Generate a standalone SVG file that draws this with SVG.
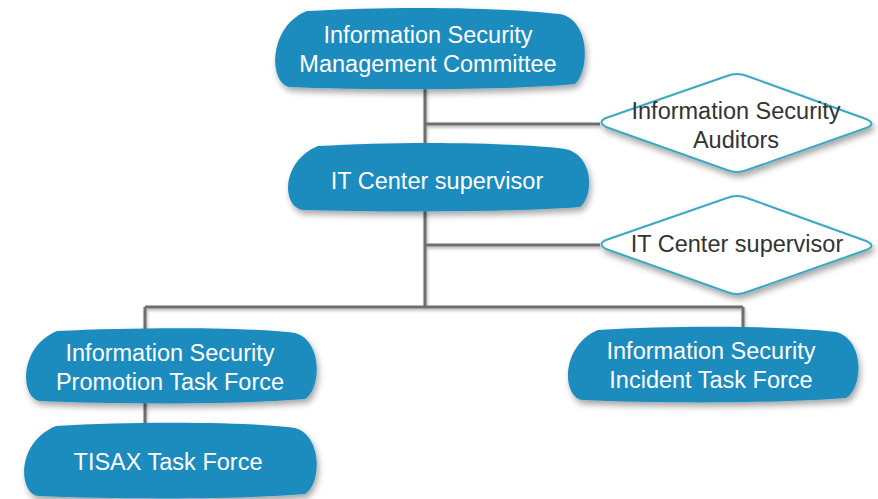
<svg xmlns="http://www.w3.org/2000/svg" width="878" height="499" viewBox="0 0 878 499">
<defs>
<filter id="sh" x="-10%" y="-20%" width="120%" height="150%">
<feDropShadow dx="2" dy="4" stdDeviation="3" flood-color="#000" flood-opacity="0.35"/>
</filter>
<filter id="lsh" x="-5%" y="-5%" width="110%" height="110%">
<feDropShadow dx="1" dy="2" stdDeviation="1.5" flood-color="#000" flood-opacity="0.3"/>
</filter>
</defs>
<style>
.blob{fill:#1e8bbd;filter:url(#sh)}
.dia{fill:#fff;stroke:#3ba9c2;stroke-width:2;filter:url(#sh)}
.wt{fill:#fff;font-family:"Liberation Sans",Arial,sans-serif;font-size:23.5px;text-anchor:middle}
.dt{fill:#333;font-family:"Liberation Sans",Arial,sans-serif;font-size:23.5px;text-anchor:middle}
.con{fill:none;stroke:#6e6e6e;stroke-width:3;filter:url(#lsh)}
</style>
<rect width="878" height="499" fill="#fff"/>
<g id="connectors">
<path class="con" d="M425,88 V143 M425,124 H600 M425,210 V307 M425,245 H600 M145,307 H743 M145,307 V330 M743,307 V330 M145,400 V425"/>
</g>
<g id="n1">
<path class="blob" d="M307,11 C390,6 500,7 560,14 C590,20 590,70 575,84 C500,91 360,90 290,87 C268,84 268,26 307,11 Z"/>
<text class="wt" x="428" y="43">Information Security</text>
<text class="wt" x="428" y="72">Management Committee</text>
</g>
<g id="n2">
<path class="blob" d="M318,146 C400,141 510,142 565,149 C594,155 594,196 580,207 C500,213 370,212 303,210 C281,207 281,161 318,146 Z"/>
<text class="wt" x="437" y="189">IT Center supervisor</text>
</g>
<g id="n3">
<path class="dia" d="M606,118 Q597,122 606,127 L727,170 Q737,174 747,170 L866,128 Q877,124 866,119 L747,76 Q737,72 727,76 Z"/>
<text class="dt" x="736" y="119">Information Security</text>
<text class="dt" x="736" y="148">Auditors</text>
</g>
<g id="n4">
<path class="dia" d="M606,240 Q597,244 606,249 L727,292 Q737,296 747,292 L866,250 Q877,246 866,241 L747,198 Q737,194 727,198 Z"/>
<text class="dt" x="737" y="252">IT Center supervisor</text>
</g>
<g id="n5">
<path class="blob" d="M57,331 C140,327 250,327 295,333 C322,340 322,388 305,399 C230,405 110,404 40,401 C20,398 18,347 57,331 Z"/>
<text class="wt" x="170" y="361">Information Security</text>
<text class="wt" x="170" y="390">Promotion Task Force</text>
</g>
<g id="n6">
<path class="blob" d="M598,330 C680,325 790,326 836,332 C864,339 864,387 846,398 C770,404 650,403 582,400 C562,397 560,346 598,330 Z"/>
<text class="wt" x="711" y="359">Information Security</text>
<text class="wt" x="711" y="388">Incident Task Force</text>
</g>
<g id="n7">
<path class="blob" d="M56,426 C140,421 250,422 295,428 C322,435 322,484 305,494 C230,500 110,499 38,496 C18,493 16,442 56,426 Z"/>
<text class="wt" x="168" y="470">TISAX Task Force</text>
</g>
</svg>
